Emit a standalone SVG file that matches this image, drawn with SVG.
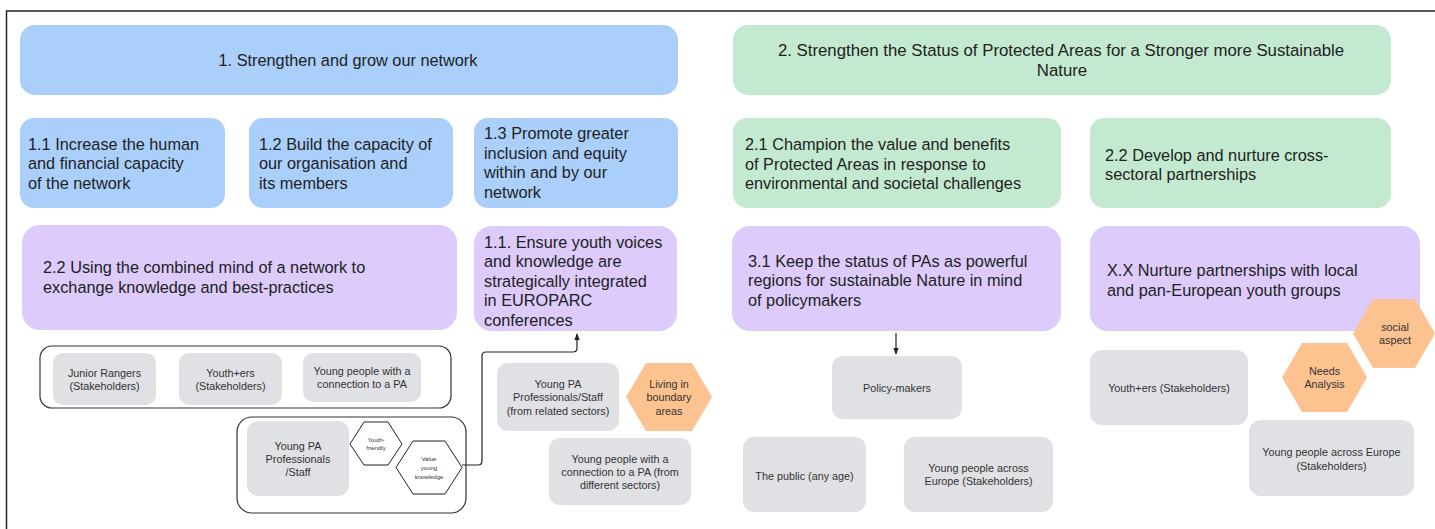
<svg xmlns="http://www.w3.org/2000/svg" width="1435" height="529" viewBox="0 0 1435 529">
<defs>
<style>
text{font-family:"Liberation Sans",Arial,sans-serif;fill:#222}
.blue{fill:#aacffb}
.green{fill:#c3ead0}
.purple{fill:#dccbfb}
.grey{fill:#dfe1e5}
.orange{fill:#fcc28f}
.t16{font-size:16.3px}
.tg{font-size:16.8px}
.tp{font-size:16.3px}
.t11{font-size:10.8px;fill:#333}
.t6{font-size:6px;fill:#333}
.grp{fill:none;stroke:#333;stroke-width:1.2}
.hexw{fill:#fff;stroke:#222;stroke-width:1}
.conn{fill:none;stroke:#222;stroke-width:1.2}
</style>
<marker id="arr" viewBox="0 0 10 10" refX="9" refY="5" markerWidth="6" markerHeight="6" orient="auto-start-reverse">
<path d="M0,1 L10,5 L0,9 z" fill="#222"/>
</marker>
</defs>
<rect x="0" y="0" width="1435" height="529" fill="#fff"/>
<rect x="6.5" y="11" width="1440" height="530" fill="none" stroke="#222" stroke-width="1.5"/>

<g id="n1"><rect class="blue" x="20" y="25" width="658" height="70" rx="15"/>
<text class="t16" x="348" y="66" text-anchor="middle">1. Strengthen and grow our network</text></g>
<g id="n1_1"><rect class="blue" x="20" y="118" width="205" height="90" rx="14"/>
<text class="t16" x="28" y="149.5">1.1 Increase the human</text><text class="t16" x="28" y="169">and financial capacity</text><text class="t16" x="28" y="188.5">of the network</text></g>
<g id="n1_2"><rect class="blue" x="249" y="118" width="204" height="90" rx="14"/>
<text class="t16" x="259" y="149.5">1.2 Build the capacity of</text><text class="t16" x="259" y="169">our organisation and</text><text class="t16" x="259" y="188.5">its members</text></g>
<g id="n1_3"><rect class="blue" x="474" y="118" width="204" height="90" rx="14"/>
<text class="t16" x="484" y="139">1.3 Promote greater</text><text class="t16" x="484" y="158.5">inclusion and equity</text><text class="t16" x="484" y="178">within and by our</text><text class="t16" x="484" y="197.5">network</text></g>

<g id="n2"><rect class="green" x="733" y="25" width="658" height="70" rx="15"/>
<text class="tg" x="1061" y="56" text-anchor="middle">2. Strengthen the Status of Protected Areas for a Stronger more Sustainable</text>
<text class="tg" x="1062" y="75.5" text-anchor="middle">Nature</text></g>
<g id="n2_1"><rect class="green" x="733" y="118" width="328" height="90" rx="14"/>
<text class="t16" x="745" y="150">2.1 Champion the value and benefits</text><text class="t16" x="745" y="169.5">of Protected Areas in response to</text><text class="t16" x="745" y="189">environmental and societal challenges</text></g>
<g id="n2_2"><rect class="green" x="1090" y="118" width="301" height="90" rx="14"/>
<text class="t16" x="1105" y="160.5">2.2 Develop and nurture cross-</text><text class="t16" x="1105" y="179.5">sectoral partnerships</text></g>

<g id="p2_2"><rect class="purple" x="22" y="225" width="435" height="105" rx="18"/>
<text class="tp" x="43" y="273">2.2 Using the combined mind of a network to</text><text class="tp" x="43" y="292.5">exchange knowledge and best-practices</text></g>
<g id="p1_1"><rect class="purple" x="474" y="226" width="203" height="105" rx="18"/>
<text class="tp" x="484" y="247.5">1.1. Ensure youth voices</text><text class="tp" x="484" y="267">and knowledge are</text><text class="tp" x="484" y="286.5">strategically integrated</text><text class="tp" x="484" y="306">in EUROPARC</text><text class="tp" x="484" y="325.5">conferences</text></g>
<g id="p3_1"><rect class="purple" x="732" y="226" width="329" height="105" rx="18"/>
<text class="tp" x="748" y="266.5">3.1 Keep the status of PAs as powerful</text><text class="tp" x="748" y="286">regions for sustainable Nature in mind</text><text class="tp" x="748" y="305.5">of policymakers</text></g>
<g id="pXX"><rect class="purple" x="1090" y="226" width="330" height="105" rx="18"/>
<text class="tp" x="1107" y="275.5">X.X Nurture partnerships with local</text><text class="tp" x="1107" y="295.5">and pan-European youth groups</text></g>

<g id="grp1"><rect class="grp" x="40" y="346" width="411" height="62" rx="12"/></g>
<g id="jr"><rect class="grey" x="53" y="353" width="103" height="52" rx="10"/>
<text class="t11" x="104.5" y="377" text-anchor="middle">Junior Rangers</text><text class="t11" x="104.5" y="390" text-anchor="middle">(Stakeholders)</text></g>
<g id="ye1"><rect class="grey" x="179" y="353" width="103" height="52" rx="10"/>
<text class="t11" x="230.5" y="377" text-anchor="middle">Youth+ers</text><text class="t11" x="230.5" y="390" text-anchor="middle">(Stakeholders)</text></g>
<g id="ypc"><rect class="grey" x="303" y="353" width="118" height="49" rx="10"/>
<text class="t11" x="362" y="375" text-anchor="middle">Young people with a</text><text class="t11" x="362" y="388" text-anchor="middle">connection to a PA</text></g>

<g id="grp2"><rect class="grp" x="237" y="417" width="229" height="96" rx="15"/></g>
<g id="ypa"><rect class="grey" x="247" y="421" width="102" height="75" rx="11"/>
<text class="t11" x="298" y="450" text-anchor="middle">Young PA</text><text class="t11" x="298" y="463" text-anchor="middle">Professionals</text><text class="t11" x="298" y="476" text-anchor="middle">/Staff</text></g>
<g id="hyf"><polygon class="hexw" points="350,444 364,422 388,422 402,444 388,465 364,465"/>
<text class="t6" x="376" y="442" text-anchor="middle">Youth-</text><text class="t6" x="376" y="450" text-anchor="middle">friendly</text></g>
<g id="hvk"><polygon class="hexw" points="396,467.5 413,441 445,441 462,467.5 445,494 413,494"/>
<text class="t6" x="429" y="461" text-anchor="middle">Value</text><text class="t6" x="429" y="470" text-anchor="middle">young</text><text class="t6" x="429" y="478.5" text-anchor="middle">knowledge</text></g>

<g id="ypas"><rect class="grey" x="497" y="363" width="122" height="68" rx="11"/>
<text class="t11" x="558" y="388" text-anchor="middle">Young PA</text><text class="t11" x="558" y="401" text-anchor="middle">Professionals/Staff</text><text class="t11" x="558" y="414.5" text-anchor="middle">(from related sectors)</text></g>
<g id="hlb"><polygon class="orange" points="626,397 646,363 692,363 712,397 692,431 646,431"/>
<text class="t11" x="669" y="388" text-anchor="middle">Living in</text><text class="t11" x="669" y="401" text-anchor="middle">boundary</text><text class="t11" x="669" y="414.5" text-anchor="middle">areas</text></g>
<g id="ypds"><rect class="grey" x="549" y="438" width="142" height="67" rx="11"/>
<text class="t11" x="620" y="463" text-anchor="middle">Young people with a</text><text class="t11" x="620" y="476" text-anchor="middle">connection to a PA (from</text><text class="t11" x="620" y="489" text-anchor="middle">different sectors)</text></g>

<g id="pm"><rect class="grey" x="832" y="356" width="130" height="63" rx="11"/>
<text class="t11" x="897" y="392" text-anchor="middle">Policy-makers</text></g>
<g id="pub"><rect class="grey" x="743" y="437" width="123" height="75" rx="11"/>
<text class="t11" x="804.5" y="480" text-anchor="middle">The public (any age)</text></g>
<g id="ype1"><rect class="grey" x="904" y="437" width="149" height="75" rx="11"/>
<text class="t11" x="978.5" y="472" text-anchor="middle">Young people across</text><text class="t11" x="978.5" y="485" text-anchor="middle">Europe (Stakeholders)</text></g>

<g id="ye2"><rect class="grey" x="1090" y="350" width="158" height="75" rx="12"/>
<text class="t11" x="1169" y="392" text-anchor="middle">Youth+ers (Stakeholders)</text></g>
<g id="ype2"><rect class="grey" x="1249" y="420" width="165" height="76" rx="12"/>
<text class="t11" x="1331.5" y="456" text-anchor="middle">Young people across Europe</text><text class="t11" x="1331.5" y="470" text-anchor="middle">(Stakeholders)</text></g>
<g id="hna"><polygon class="orange" points="1282,377.5 1302,343 1347,343 1367,377.5 1347,412 1302,412"/>
<text class="t11" x="1324.5" y="375" text-anchor="middle">Needs</text><text class="t11" x="1324.5" y="388" text-anchor="middle">Analysis</text></g>
<g id="hsa"><polygon class="orange" points="1353,333.5 1373,299 1415,299 1435,333.5 1415,368 1373,368"/>
<text class="t11" x="1395" y="331" text-anchor="middle">social</text><text class="t11" x="1395" y="344" text-anchor="middle">aspect</text></g>

<g id="connectors">
<path class="conn" d="M462,465 L478,465 Q482,465 482,461 L482,356 Q482,352 486,352 L573,352 Q577,352 577,348 L577,334" marker-end="url(#arr)"/>
<path class="conn" d="M896,333 L896,354" marker-end="url(#arr)"/>
</g>
</svg>
